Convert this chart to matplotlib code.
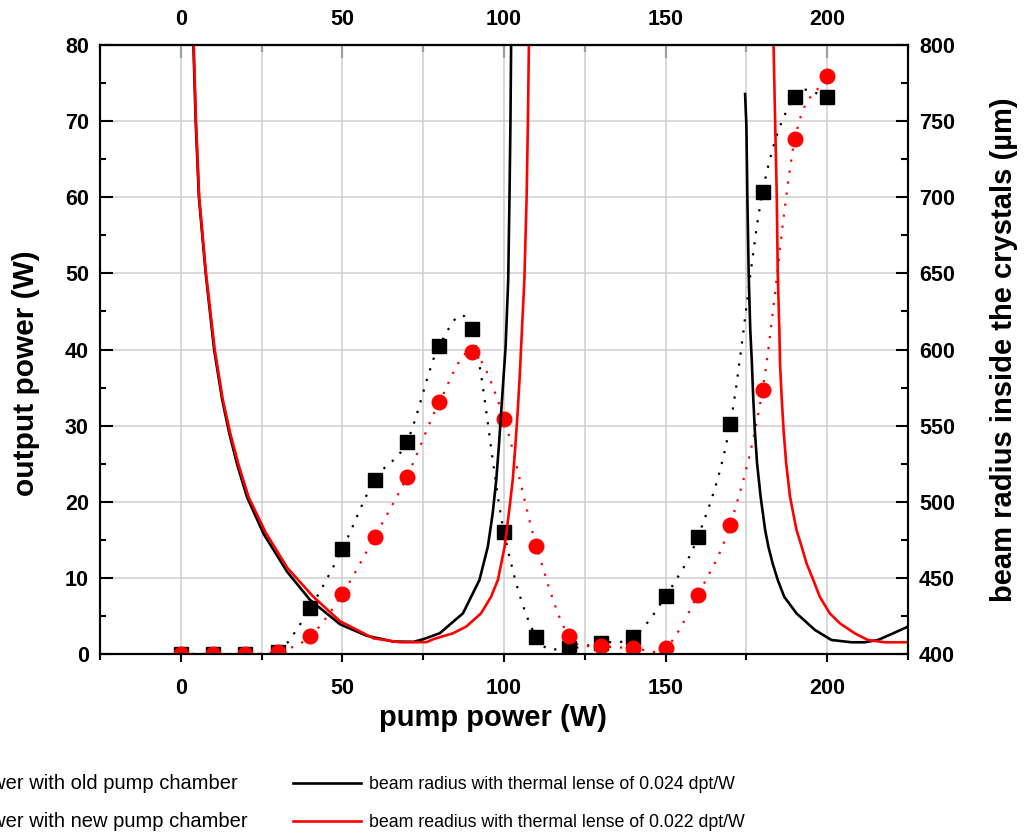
import numpy as np
import matplotlib
matplotlib.use('Agg')
import matplotlib.pyplot as plt
from matplotlib.path import Path
from matplotlib.patches import PathPatch
from matplotlib.ticker import MultipleLocator

plt.rcParams['font.family'] = ['Liberation Sans', 'DejaVu Sans']

# measured output power (W) vs pump power (W)
pump = [0, 10, 20, 30, 40, 50, 60, 70, 80, 90, 100,
        110, 120, 130, 140, 150, 160, 170, 180, 190, 200]
p_old = [0, 0, 0, 0.2, 6.0, 13.8, 22.9, 27.9, 40.5, 42.7, 16.0,
         2.2, 0.8, 1.5, 2.2, 7.6, 15.4, 30.2, 60.7, 73.2, 73.2]
p_new = [0, 0, 0, 0.3, 2.3, 7.9, 15.4, 23.3, 33.1, 39.7, 30.9,
         14.2, 2.4, 1.1, 0.8, 0.8, 7.8, 17.0, 34.7, 67.6, 75.9]

# beam radius (um), 0.024 dpt/W, two branches
r024_w1 = [3.9, 4.6, 5.6, 7.7, 10.3, 12.8, 15.0, 17.5, 20.5, 25.6, 32.9, 40.0,
           49.3, 57.5, 65.7, 72.0, 75.0, 80.1, 87.3, 92.4, 95.0, 96.5,
           97.6, 98.4, 99.1, 99.8, 100.5, 100.9, 101.3, 101.7, 102.0, 102.2]
r024_r1 = [800, 750, 700, 650, 600, 567, 545, 524, 503, 479, 454, 435.5,
           419.5, 412, 408.2, 408, 409.7, 413.6, 426.7, 448.6, 470.5, 492.4,
           514.3, 536.2, 558.1, 580, 601.8, 623.8, 645.6, 700, 750, 800]
r024_w2 = [174.6, 175.0, 175.3, 175.7, 176.2, 176.7, 177.1, 177.6, 178.3, 179.4,
           180.8, 181.8, 183.1, 184.7, 186.7, 190.5, 196.2, 201.3, 207.5, 211.6,
           215.7, 219.8, 225.0]
r024_r2 = [767.8, 746.7, 700, 650, 612.8, 590.9, 569, 547.1, 525.3, 503.3,
           481.4, 470.5, 459.6, 448.6, 437.6, 426.7, 415.8, 409.2, 407.7, 407.7,
           409.2, 413, 418]

# beam radius (um), 0.022 dpt/W, two branches
r022_w1 = [4.0, 4.7, 5.7, 7.8, 10.5, 13.0, 15.3, 17.9, 21.0, 26.2, 33.0, 41.0,
           49.3, 59.6, 67.8, 76.0, 78.1, 84.2, 88.3, 92.9, 96.0, 98.1,
           100.2, 101.5, 102.7, 103.5, 104.2, 104.8, 105.3, 105.8, 106.3, 107.0,
           107.4, 107.7]
r022_r1 = [800, 750, 700, 650, 600, 567, 545, 524, 503, 480, 456.5, 437.6,
           421.5, 410.3, 407.7, 407.8, 409.7, 413.6, 418, 426.7, 437.6, 448.6,
           470.5, 492.4, 514.3, 536.2, 558.1, 580, 601.8, 623.8, 645.6, 700,
           750, 800]
r022_w2 = [183.4, 183.9, 184.4, 184.7, 185.2, 185.4, 185.9, 186.5, 187.3, 188.5,
           190.5, 192.1, 193.6, 195.7, 197.7, 200.8, 203.9, 208.5, 212.6, 217.8, 225.0]
r022_r2 = [800, 749, 700, 650, 612.8, 590.9, 569, 547.1, 525.3, 503.3,
           481.4, 470.5, 459.6, 448.6, 437.6, 426.7, 420.2, 413.6, 409.2, 407.7, 407.7]

lab_old = 'output power with old pump chamber'
lab_new = 'output power with new pump chamber'
lab_024 = 'beam radius with thermal lense of 0.024 dpt/W'
lab_022 = 'beam readius with thermal lense of 0.022 dpt/W'


def smooth_path(x, y):
    # catmull-rom style bezier through the points (drawn by matplotlib's path)
    p = np.column_stack([x, y]).astype(float)
    n = len(p)
    tang = np.zeros_like(p)
    tang[1:-1] = (p[2:] - p[:-2]) / 2
    tang[0] = p[1] - p[0]
    tang[-1] = p[-1] - p[-2]
    verts = [p[0]]
    codes = [Path.MOVETO]
    for i in range(n - 1):
        verts += [p[i] + tang[i] / 3, p[i + 1] - tang[i + 1] / 3, p[i + 1]]
        codes += [Path.CURVE4] * 3
    return Path(verts, codes)


fig = plt.figure(figsize=(10.25, 8.36), dpi=100)
ax = fig.add_axes([100 / 1025, 1 - 654 / 836, 808 / 1025, 609 / 836])

ax.add_patch(PathPatch(smooth_path(pump, p_old), fill=False, ec='black',
                       lw=1.6, ls=(0, (1, 4)), zorder=2))
ax.add_patch(PathPatch(smooth_path(pump, p_new), fill=False, ec='#ff0000',
                       lw=1.6, ls=(0, (1, 4)), zorder=2))
h_old, = ax.plot(pump, p_old, 's', color='black', ms=10, mec='black', zorder=3)
h_new, = ax.plot(pump, p_new, 'o', color='#ff0000', ms=10.5, mec='#ff0000', zorder=3)

ax.set_xlim(-25, 225)
ax.set_ylim(0, 80)
ax.xaxis.set_major_locator(MultipleLocator(50))
ax.xaxis.set_minor_locator(MultipleLocator(25))
ax.yaxis.set_major_locator(MultipleLocator(10))
ax.yaxis.set_minor_locator(MultipleLocator(5))
ax.xaxis.grid(True, which='both', color='#cfcfcf', lw=1.1)
ax.yaxis.grid(True, which='major', color='#cfcfcf', lw=1.1)
ax.set_axisbelow(True)

ax2 = ax.twinx()
h024, = ax2.plot(r024_w1, r024_r1, color='black', lw=1.9)
ax2.plot(r024_w2, r024_r2, color='black', lw=1.9)
h022, = ax2.plot(r022_w1, r022_r1, color='#ff0000', lw=1.9)
ax2.plot(r022_w2, r022_r2, color='#ff0000', lw=1.9)
ax2.set_ylim(400, 800)
ax2.yaxis.set_major_locator(MultipleLocator(50))
ax2.yaxis.set_minor_locator(MultipleLocator(25))

top = ax.secondary_xaxis('top')
top.xaxis.set_major_locator(MultipleLocator(50))
top.xaxis.set_minor_locator(MultipleLocator(25))

tfont = dict(labelsize=15.5)
ax.tick_params(axis='y', which='major', direction='in', length=9, width=1.5, pad=8, **tfont)
ax.tick_params(axis='y', which='minor', direction='in', length=4.5, width=1.5)
ax.tick_params(axis='x', which='major', direction='out', length=6, width=1.5, pad=11, **tfont)
ax.tick_params(axis='x', which='minor', direction='out', length=4, width=1.5)
ax2.tick_params(axis='y', which='major', direction='in', length=9, width=1.5, pad=8, **tfont)
ax2.tick_params(axis='y', which='minor', direction='in', length=5, width=1.5)
top.tick_params(axis='x', which='major', direction='in', length=9, width=1.5, pad=11, **tfont)
top.tick_params(axis='x', which='minor', direction='in', length=5, width=1.5)
for a in (ax, ax2, top):
    for t in a.get_xticklabels() + a.get_yticklabels():
        t.set_fontweight('bold')
for a in (ax, ax2):
    for s in a.spines.values():
        s.set_linewidth(1.5)
top.spines['top'].set_linewidth(1.5)

ax.set_xlabel('pump power (W)', fontsize=21, fontweight='bold')
ax.xaxis.set_label_coords(0.486, -0.082)
ax.set_ylabel('output power (W)', fontsize=21.5, fontweight='bold')
ax.yaxis.set_label_coords(-0.074, 0.461)
ax2.set_ylabel('beam radius inside the crystals (\u00b5m)', fontsize=21, fontweight='bold')
ax2.yaxis.set_label_coords(1.102, 0.5)

leg_kw = dict(frameon=False, borderpad=0, borderaxespad=0, handletextpad=0.45)
fig.legend([h_old, h_new], [lab_old, lab_new], loc='upper right', fontsize=14.5,
           labelspacing=0.96, bbox_to_anchor=(248 / 1025, 1 - 774 / 836), **leg_kw)
fig.legend([h024, h022], [lab_024, lab_022], loc='upper left', fontsize=12.8,
           labelspacing=1.19, bbox_to_anchor=(293 / 1025, 1 - 776 / 836),
           handlelength=3.85, **leg_kw)

fig.savefig('out.png', dpi=100)
